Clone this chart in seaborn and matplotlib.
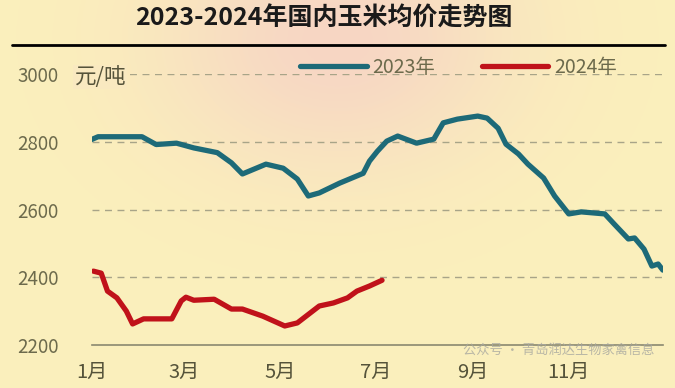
import numpy as np
import pandas as pd
import matplotlib.pyplot as plt
import seaborn as sns

# 国内玉米均价 (元/吨), dates
dates_2023 = ["01-01", "01-05", "02-02", "02-11", "02-24", "03-07", "03-22", "03-31",
              "04-07", "04-22", "05-03", "05-12", "05-19", "05-26", "06-08", "06-23",
              "06-27", "07-02", "07-08", "07-15", "07-27", "08-07", "08-13", "08-22",
              "09-04", "09-10", "09-17", "09-22", "09-30", "10-06", "10-16", "10-23",
              "11-01", "11-09", "11-24", "11-30", "12-09", "12-13", "12-19", "12-24",
              "12-28", "12-31"]
price_2023 = [2807, 2815, 2815, 2792, 2796, 2782, 2768, 2738,
              2705, 2734, 2722, 2690, 2640, 2649, 2678, 2707,
              2743, 2772, 2802, 2817, 2796, 2808, 2856, 2867,
              2876, 2870, 2840, 2793, 2764, 2734, 2693, 2640,
              2587, 2593, 2587, 2557, 2513, 2516, 2483, 2433,
              2439, 2421]

dates_2024 = ["01-02", "01-07", "01-11", "01-17", "01-23", "01-27", "02-03", "02-21",
              "02-27", "03-02", "03-07", "03-20", "03-31", "04-07", "04-20", "05-04",
              "05-12", "05-26", "06-04", "06-13", "06-19", "06-27", "07-05"]
price_2024 = [2418, 2412, 2359, 2339, 2300, 2262, 2277, 2277,
              2330, 2341, 2332, 2335, 2306, 2306, 2285, 2256,
              2265, 2315, 2324, 2339, 2359, 2374, 2391]

month_ticks = [1, 3, 5, 7, 9, 11]
month_labels = ["1月", "3月", "5月", "7月", "9月", "11月"]
y_ticks = [2200, 2400, 2600, 2800, 3000]

# both years on one calendar so they overlay
df = pd.concat([
    pd.DataFrame({"date": pd.to_datetime(["2023-" + d for d in dates_2023]),
                  "price": price_2023, "year": "2023年"}),
    pd.DataFrame({"date": pd.to_datetime(["2023-" + d for d in dates_2024]),
                  "price": price_2024, "year": "2024年"}),
])

sns.set_style("white")
plt.rcParams['font.family'] = ['Noto Sans CJK SC', 'DejaVu Sans']

fig = plt.figure(figsize=(6.75, 3.88), dpi=100)

# warm yellow / pink background
bg = fig.add_axes([0, 0, 1, 1], zorder=-10)
gx, gy = np.meshgrid(np.linspace(0, 1, 300), np.linspace(0, 1, 200))
w = np.exp(-((gx - 0.5) ** 2 / 0.07 + (gy - 0.1) ** 2 / 0.12))[..., None]
yellow = np.array([251, 240, 188]) / 255
pink = np.array([247, 214, 196]) / 255
bg.imshow(yellow * (1 - w) + pink * w, aspect="auto", extent=[0, 1, 0, 1])
bg.axis("off")

ax = fig.add_axes([0.136, 0.111, 0.846, 0.698])
ax.patch.set_alpha(0)

sns.lineplot(data=df, x="date", y="price", hue="year", ax=ax,
             palette={"2023年": "#1d6a78", "2024年": "#c0121a"},
             linewidth=3.8, solid_capstyle="round")

ax.set_xlim(pd.Timestamp("2023-01-01"), pd.Timestamp("2023-12-31"))
ax.set_ylim(2200, 3000)
ax.set_xticks([pd.Timestamp(2023, m, 1) for m in month_ticks])
ax.set_xticklabels(month_labels)
ax.set_yticks(y_ticks)
ax.tick_params(axis="x", length=0, pad=12, labelsize=14.5, colors="#55533a")
ax.tick_params(axis="y", length=0, pad=24, labelsize=13.5, colors="#6c6a4c")
ax.set_xlabel("")
ax.set_ylabel("")

for v in y_ticks[1:]:
    ax.axhline(v, color="#a8a488", lw=1, ls=(0, (5, 4)), zorder=0)

for s in ["top", "right", "left"]:
    ax.spines[s].set_visible(False)
ax.spines["bottom"].set_color("#8a8870")
ax.spines["bottom"].set_linewidth(1.2)

ax.text(-0.03, 0.99, "元/吨", transform=ax.transAxes, fontsize=15.5,
        color="#55533a", va="center", ha="left",
        bbox=dict(facecolor="#f9e9c0", edgecolor="none", pad=1))

leg = ax.legend(loc="center right", bbox_to_anchor=(0.95, 1.025), ncol=2,
                frameon=False, fontsize=14, handlelength=3.4,
                handletextpad=0.3, columnspacing=2.4)
for t in leg.get_texts():
    t.set_color("#6c6a4c")

fig.text(0.48, 0.952, "2023-2024年国内玉米均价走势图", ha="center", va="center",
         fontsize=18, fontweight="bold", color="#1a1a1a")
fig.add_artist(plt.Line2D([0.018, 0.985], [0.884, 0.884], color="black", lw=2))

fig.text(0.97, 0.098, "公众号 · 青岛润达生物家禽信息", ha="right", va="center",
         fontsize=9.5, color="#a8a8a0", alpha=0.8)

fig.savefig("out.png", dpi=100)
